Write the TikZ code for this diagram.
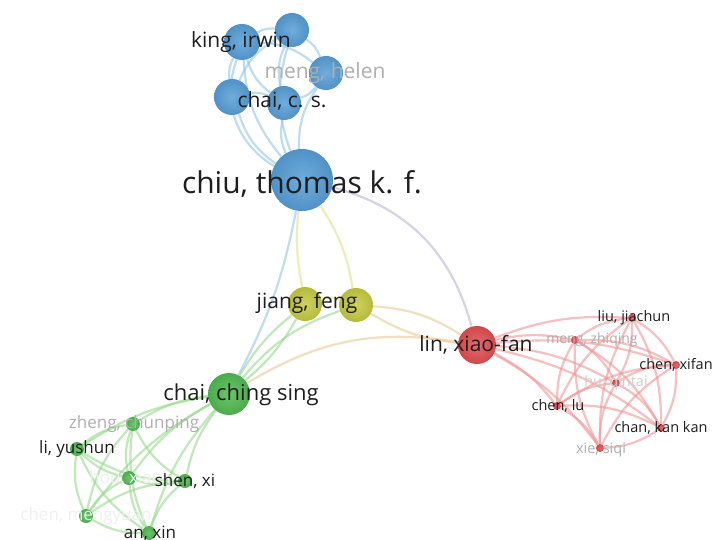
\documentclass[tikz,border=0pt]{standalone}
\usepackage{fontspec}
\setmainfont{Open Sans}
\pgfdeclarelayer{bg}
\pgfdeclarelayer{edges}
\pgfsetlayers{bg,edges,main}
\definecolor{cB}{RGB}{88,158,215}
\definecolor{cY}{RGB}{198,202,66}
\definecolor{cR}{RGB}{226,78,82}
\definecolor{cG}{RGB}{82,186,82}
\definecolor{eB}{RGB}{150,198,232}
\definecolor{eY}{RGB}{226,226,140}
\definecolor{eR}{RGB}{240,150,150}
\definecolor{eG}{RGB}{150,218,140}
\definecolor{eP}{RGB}{190,180,215}
\definecolor{eO}{RGB}{238,200,150}
\definecolor{tx}{RGB}{30,30,30}
\definecolor{fd}{RGB}{175,175,175}
\begin{document}
\begin{tikzpicture}[x=1pt,y=-1pt,
  ball/.style={circle,inner sep=0pt,minimum size=#1},
  bb/.style={ball=#1,inner color=cB!85!white,outer color=cB!92!black},
  yy/.style={ball=#1,inner color=cY!85!white,outer color=cY!92!black},
  rr/.style={ball=#1,inner color=cR!85!white,outer color=cR!92!black},
  gg/.style={ball=#1,inner color=cG!85!white,outer color=cG!92!black},
  lab/.style={text=tx,inner sep=0pt,font=\fontsize{#1}{#1}\selectfont},
  flab/.style={text=fd,inner sep=0pt,font=\fontsize{#1}{#1}\selectfont},
  xlab/.style={text=black!6,inner sep=0pt,font=\fontsize{#1}{#1}\selectfont},
  lk/.style={line width=2.2pt,draw=#1,opacity=0.6,bend left=18},
]
\begin{pgfonlayer}{bg}
\fill[white] (0,0) rectangle (717,540);
\end{pgfonlayer}
\useasboundingbox (0,0) rectangle (717,540);
% blue cluster
\node[bb=36] (b1) at (242,42) {};
\node[bb=34] (b2) at (292,30) {};
\node[bb=34] (b3) at (326,73) {};
\node[bb=36] (b4) at (232,97) {};
\node[bb=34] (b5) at (284,103) {};
\node[bb=62] (chiu) at (302,180) {};
% yellow
\node[yy=34] (y1) at (305,304) {};
\node[yy=34] (y2) at (356,305) {};
% red
\node[rr=38] (lin) at (477,345) {};
\node[rr=8] (r1) at (575,340) {};
\node[rr=8] (r2) at (632,318) {};
\node[rr=8] (r3) at (676,365) {};
\node[rr=8] (r4) at (616,383) {};
\node[rr=8] (r5) at (557,406) {};
\node[rr=8] (r6) at (661,428) {};
\node[rr=8] (r7) at (600,448) {};
% green
\node[gg=42] (g0) at (229,394) {};
\node[gg=14] (g1) at (133,424) {};
\node[gg=14] (g2) at (77,449) {};
\node[gg=14] (g3) at (129,478) {};
\node[gg=14] (g4) at (185,481) {};
\node[gg=14] (g5) at (86,516) {};
\node[gg=14] (g6) at (149,533) {};
% edges
\begin{pgfonlayer}{edges}
\foreach \a/\b in {b1/b2,b4/b1,b5/b1,b1/b3,b2/b3,b5/b2,b4/b2,b3/b5,b4/b5,chiu/b1,chiu/b2,chiu/b3,chiu/b4,chiu/b5}
  \draw[lk=eB] (\a) to (\b);
\draw[lk=eB,bend left=40] (chiu) to (b1);
\draw[lk=eY,bend left=12] (chiu) to (y2);
\draw[lk=eY,bend left=8] (y1) to (chiu);
\draw[lk=eB,bend right=8] (g0) to (chiu);
\draw[lk=eP,bend left=30] (chiu) to (lin);
\draw[lk=eY] (y1) to (y2);
\draw[lk=eO,bend left=14] (y2) to (lin);
\draw[lk=eO,bend right=12] (y2) to (lin);
\draw[lk=eO,bend left=20] (g0) to (lin);
\draw[lk=eG,bend left=10] (g0) to (y1);
\draw[lk=eG,bend left=15] (g0) to (y2);
\draw[lk=eG,bend right=10] (g0) to (y1);
\foreach \b in {r1,r2,r3,r4,r5,r6,r7}
  \draw[lk=eR,bend left=12] (lin) to (\b);
\foreach \a/\b in {r1/r2,r1/r3,r1/r4,r5/r1,r1/r6,r7/r1,r2/r3,r2/r4,r5/r2,r2/r6,r4/r3,r5/r3,r3/r6,r7/r3,r5/r4,r4/r6,r7/r4,r5/r6,r5/r7,r6/r7,r7/r2}
  \draw[lk=eR,bend left=15] (\a) to (\b);
\foreach \b in {g1,g2,g3,g4,g5,g6}
  \draw[lk=eG,bend right=12] (g0) to (\b);
\foreach \a/\b in {g1/g2,g1/g3,g1/g4,g1/g5,g1/g6,g2/g3,g2/g4,g2/g5,g2/g6,g3/g4,g3/g5,g3/g6,g4/g5,g4/g6,g5/g6}
  \draw[lk=eG,bend right=15] (\a) to (\b);
\end{pgfonlayer}
% labels
\node[lab=21] (lb1) at (241,42) {king, irwin};
\node[flab=21] (lb3) at (325,73) {meng, helen};
\node[lab=21] (lb5) at (282,101) {chai, c. s.};
\node[lab=30] (lchiu) at (302,184) {chiu, thomas k. f.};
\node[lab=21] (ly) at (307,303) {jiang, feng};
\node[lab=21] (llin) at (476,345) {lin, xiao-fan};
\node[flab=14] (lr1) at (592,340) {meng, zhiqing};
\node[lab=14.5] (lr2) at (634,318) {liu, jiachun};
\node[lab=14.5] (lr3) at (676,365) {chen, xifan};
\node[xlab=14.5,text=fd!60] (lr4) at (616,383) {hu, qintai};
\node[lab=14.5] (lr5) at (558,406) {chen, lu};
\node[lab=14.5] (lr6) at (661,428) {chan, kan kan};
\node[flab=14.5] (lr7) at (601,450) {xie, siqi};
\node[lab=22] (lg0) at (241,395) {chai, ching sing};
\node[flab=17] (lg1) at (134,424) {zheng, chunping};
\node[lab=17] (lg2) at (77,449) {li, yushun};
\node[xlab=17] (lg3) at (130,478) {hou, xiaoli};
\node[lab=17] (lg4) at (185,481) {shen, xi};
\node[xlab=17] (lg5) at (86,516) {chen, mengyuan};
\node[lab=17] (lg6) at (150,533) {an, xin};
\end{tikzpicture}
\end{document}
